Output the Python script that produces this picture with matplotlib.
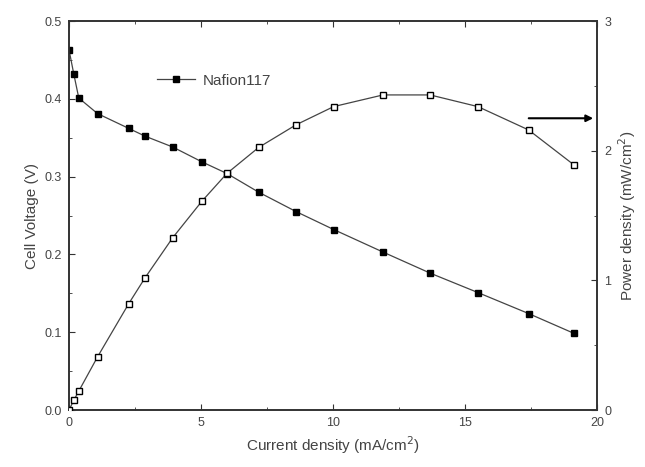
import matplotlib
matplotlib.use("Agg")
import matplotlib.pyplot as plt
from matplotlib.ticker import MultipleLocator

plt.rcParams['font.family'] = ['Liberation Sans', 'DejaVu Sans']

# current density (mA/cm2), shared by both curves
current = [0, 0.18, 0.37, 1.08, 2.26, 2.88, 3.93, 5.03, 5.98, 7.18, 8.6,
           10.02, 11.89, 13.67, 15.48, 17.4, 19.12]
voltage = [0.463, 0.432, 0.401, 0.381, 0.362, 0.352, 0.338, 0.319, 0.304,
           0.280, 0.255, 0.232, 0.203, 0.176, 0.151, 0.124, 0.0985]
power = [0, 0.075, 0.146, 0.41, 0.82, 1.02, 1.33, 1.61, 1.825, 2.025, 2.20,
         2.34, 2.43, 2.43, 2.34, 2.16, 1.89]

col = '#333333'

fig = plt.figure(figsize=(6.45, 4.67), dpi=100)
ax = fig.add_axes([0.107, 0.122, 0.819, 0.833])
ax2 = ax.twinx()

ax.plot(current, voltage, color='#444444', lw=0.9, marker='s', ms=5,
        mfc='black', mec='black', label='Nafion117', zorder=3)
ax2.plot(current, power, color='#444444', lw=0.9, marker='s', ms=5,
         mfc='white', mec='black', mew=1.0, zorder=3)

ax.set_xlim(0, 20)
ax.set_ylim(0, 0.5)
ax2.set_ylim(0, 3)

ax.xaxis.set_major_locator(MultipleLocator(5))
ax.xaxis.set_minor_locator(MultipleLocator(2.5))
ax.yaxis.set_major_locator(MultipleLocator(0.1))
ax.yaxis.set_minor_locator(MultipleLocator(0.05))
ax2.yaxis.set_major_locator(MultipleLocator(1))
ax2.yaxis.set_minor_locator(MultipleLocator(0.5))

ax.tick_params(which='both', direction='in', top=True, right=False,
               colors=col, labelsize=9, labelcolor='#444444')
ax.tick_params(which='major', length=4, pad=5)
ax.tick_params(which='minor', length=2.5)
ax2.tick_params(which='both', direction='in', colors=col, labelsize=9,
                labelcolor='#444444')
ax2.tick_params(which='major', length=4, pad=5)
ax2.tick_params(which='minor', length=2.5)

ax.yaxis.set_major_formatter(plt.FuncFormatter(lambda v, p: '%.1f' % v))

for a in (ax, ax2):
    for s in a.spines.values():
        s.set_color(col)
        s.set_linewidth(1.2)

ax.set_xlabel('Current density (mA/cm$^2$)', fontsize=11, color='#444444')
ax.set_ylabel('Cell Voltage (V)', fontsize=11, color='#444444')
ax2.set_ylabel('Power density (mW/cm$^2$)', fontsize=11, color='#444444')

ax2.annotate('', xy=(19.95, 2.25), xytext=(17.3, 2.25),
             arrowprops=dict(arrowstyle='-|>', color='black', lw=1.5,
                             mutation_scale=10))

ax.legend(loc='upper left', bbox_to_anchor=(0.14, 0.9), frameon=False,
          fontsize=11, handlelength=2.5, handletextpad=0.5,
          labelcolor='#444444')

fig.savefig('out.png', dpi=100)
